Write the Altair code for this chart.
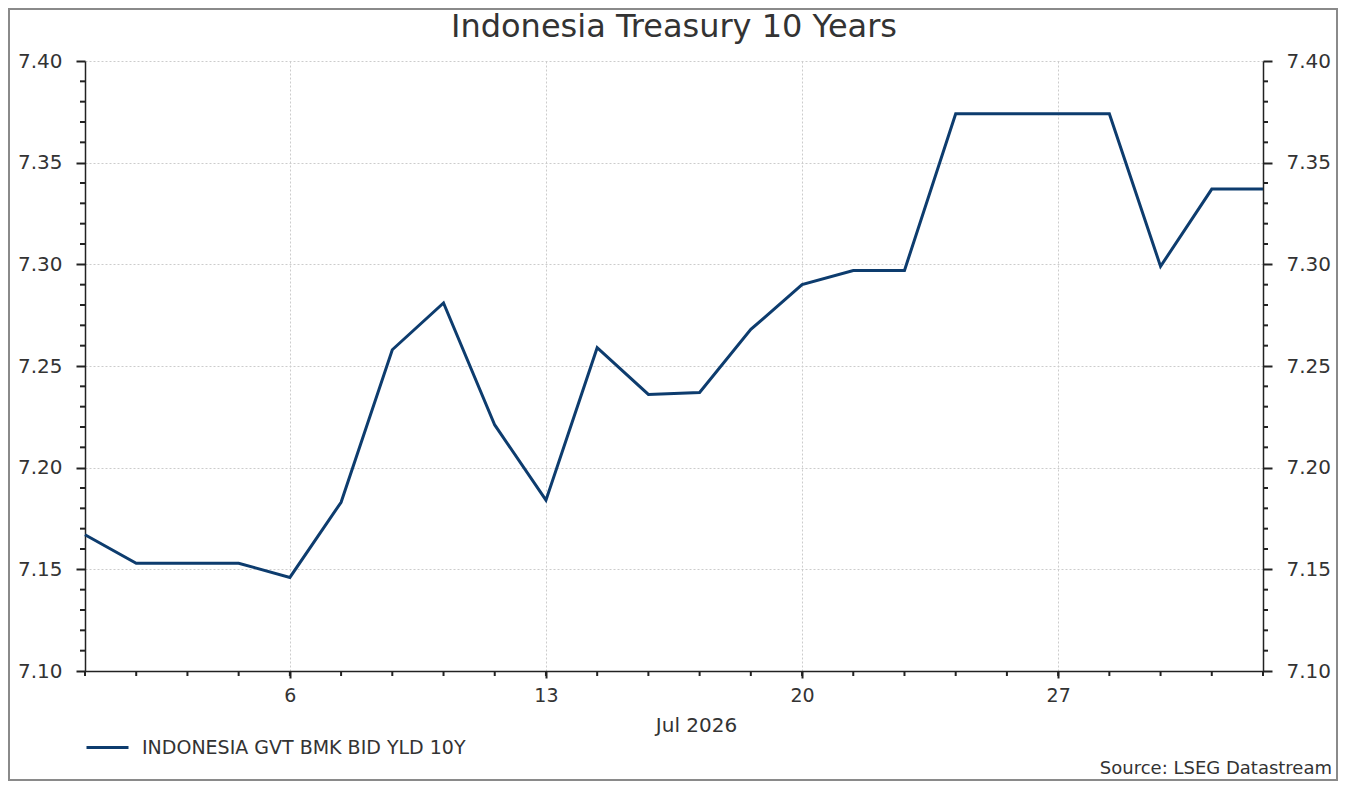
import altair as alt
import pandas as pd

# trading days (Jun 30 .. Jul 31 2026), weekends left out
days = [30, 1, 2, 3, 6, 7, 8, 9, 10, 13, 14, 15, 16, 17,
        20, 21, 22, 23, 24, 27, 28, 29, 30, 31]
yields = [7.167, 7.153, 7.153, 7.153, 7.146, 7.183, 7.258, 7.281, 7.221,
          7.184, 7.259, 7.236, 7.237, 7.268, 7.290, 7.297, 7.297, 7.374,
          7.374, 7.374, 7.374, 7.299, 7.337, 7.337]
series_name = 'INDONESIA GVT BMK BID YLD 10Y'
major_x = [4, 9, 14, 19]          # positions of 6, 13, 20, 27
y_major = [7.10, 7.15, 7.20, 7.25, 7.30, 7.35, 7.40]
y_minor = [round(7.10 + i * 0.01, 2) for i in range(31)]

W, H = 1178, 610
FONT = 'DejaVu Sans'
NAVY = '#0d3c6e'
TXT = '#333333'

df = pd.DataFrame({'idx': range(len(days)), 'yld': yields,
                   'series': series_name})
minor_df = pd.DataFrame({'yld': [v for v in y_minor if v not in y_major]})

label_expr = '[' + ','.join("'%d'" % d for d in days) + '][datum.value]'

x_enc = alt.X('idx:Q', scale=alt.Scale(domain=[0, len(days) - 1], nice=False),
              axis=alt.Axis(values=major_x, labelExpr=label_expr,
                            title='Jul 2026', titleX=611, titlePadding=10,
                            titleFontSize=20, titleFont=FONT, titleColor=TXT,
                            titleFontWeight='normal',
                            labelFontSize=19, labelFont=FONT, labelColor=TXT,
                            labelPadding=8, tickSize=7, tickWidth=2,
                            tickColor='#222', domainColor='#222', domainWidth=1.5,
                            grid=True, gridDash=[2, 2], gridColor='#cccccc'))
y_scale = alt.Scale(domain=[7.10, 7.40], nice=False, zero=False)


def y_axis(side, grid):
    return alt.Axis(orient=side, values=y_major, format='.2f', title=None,
                    labelFontSize=20, labelFont=FONT, labelColor=TXT,
                    labelPadding=14, tickSize=9, tickWidth=2,
                    tickColor='#222', domainColor='#222', domainWidth=1.5,
                    grid=grid, gridDash=[2, 2], gridColor='#cccccc')


line = alt.Chart(df).mark_line(strokeWidth=3).encode(
    x=x_enc,
    y=alt.Y('yld:Q', scale=y_scale, axis=y_axis('left', True)),
    color=alt.Color('series:N', scale=alt.Scale(range=[NAVY]),
                    legend=alt.Legend(title=None, orient='none', legendX=0,
                                      legendY=664, symbolType='stroke',
                                      symbolSize=1764, symbolStrokeWidth=3,
                                      labelFontSize=19, labelFont=FONT,
                                      labelColor=TXT, labelOffset=12,
                                      labelLimit=600, padding=0))
)

right = alt.Chart(df).mark_line(opacity=0).encode(
    x=x_enc,
    y=alt.Y('yld:Q', scale=y_scale, axis=y_axis('right', False))
)

minor_left = alt.Chart(minor_df).mark_rule(color='#222', strokeWidth=2).encode(
    y=alt.Y('yld:Q', scale=y_scale, axis=None),
    x=alt.value(-5), x2=alt.value(0)
)
minor_right = alt.Chart(minor_df).mark_rule(color='#222', strokeWidth=2).encode(
    y=alt.Y('yld:Q', scale=y_scale, axis=None),
    x=alt.value(W), x2=alt.value(W + 5)
)
minor_x = alt.Chart(df).mark_rule(color='#222', strokeWidth=2).encode(
    x=x_enc, y=alt.value(H), y2=alt.value(H + 5)
)

source = alt.Chart(df.head(1)).mark_text(
    text='Source: LSEG Datastream', align='right', baseline='alphabetic',
    font=FONT, fontSize=18, color=TXT
).encode(x=alt.value(W + 69), y=alt.value(H + 103))

frame = alt.Chart(df.head(1)).mark_rect(
    fill=None, stroke='#8a8a8a', strokeWidth=2
).encode(x=alt.value(-76), x2=alt.value(W + 74),
         y=alt.value(-52), y2=alt.value(H + 109))

chart = alt.layer(
    minor_x, minor_left, minor_right, line, right, source, frame
).resolve_scale(y='shared').resolve_axis(y='independent').properties(
    width=W, height=H,
    autosize=alt.AutoSizeParams(type='none'),
    padding={'left': 77, 'top': 53, 'right': 75, 'bottom': 110},
    title=alt.Title('Indonesia Treasury 10 Years', font=FONT, fontSize=32,
                    fontWeight='normal', color=TXT, anchor='middle',
                    frame='group', offset=-36)
).configure_view(stroke=None)

chart.save('out.html', embed_options={'renderer': 'svg', 'actions': False})
